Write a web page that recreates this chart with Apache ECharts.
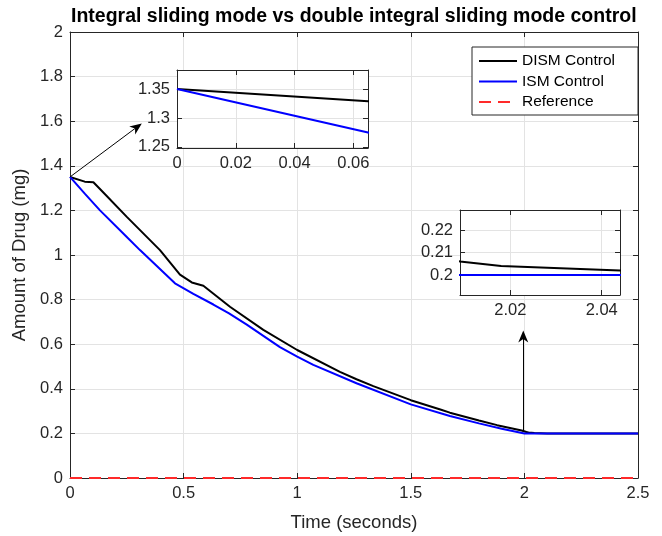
<!DOCTYPE html>
<html>
<head>
<meta charset="utf-8">
<script src="https://cdn.jsdelivr.net/npm/echarts@6/dist/echarts.min.js"></script>
<style>
  html, body { margin: 0; padding: 0; background: #fff; }
  #chart { width: 662px; height: 536px; }
</style>
</head>
<body>
<div id="chart"></div>
<script>
// values
const dismTime = [0, 0.065, 0.103, 0.15, 0.249, 0.396, 0.484, 0.536, 0.587, 0.704, 0.851, 1.0, 1.188, 1.261, 1.335, 1.5, 1.63, 1.672, 1.8, 1.88, 1.988, 2.009, 2.018, 2.044, 2.1, 2.5];
const dismValues = [1.35, 1.329, 1.326, 1.277, 1.172, 1.022, 0.912, 0.877, 0.862, 0.768, 0.664, 0.574, 0.476, 0.443, 0.412, 0.349, 0.307, 0.293, 0.258, 0.237, 0.213, 0.206, 0.204, 0.202, 0.2, 0.2];
const ismTime = [0, 0.065, 0.132, 0.25, 0.308, 0.462, 0.543, 0.631, 0.7, 0.778, 0.924, 1.0, 1.071, 1.261, 1.5, 1.672, 1.8, 1.9, 2.0, 2.5];
const ismValues = [1.35, 1.275, 1.2, 1.081, 1.022, 0.873, 0.826, 0.778, 0.738, 0.688, 0.587, 0.544, 0.507, 0.425, 0.33, 0.278, 0.245, 0.221, 0.2, 0.2];
const refTime = [0, 2.5];
const refValues = [0, 0];

// arrows pointing at the zoomed regions
const arrowStart1 = [0, 1.35], arrowEnd1 = [0.295, 1.574];
const arrowStart2 = [1.995, 0.212], arrowEnd2 = [1.995, 0.635];

const seriesNames = ["DISM Control", "ISM Control", "Reference"];

const pairs = (xs, ys) => xs.map((x, i) => [x, ys[i]]);

const FONT = "Liberation Sans";
const AXIS_COLOR = "#262626";
const GRID_COLOR = "#e3e3e3";
const dartArrow = "path://M5,0 L10,12 L5,8.5 L0,12 Z";

const makeAxis = (grid, pos, extra, labels, showMin, showMax) => Object.assign({
    type: "value",
    gridIndex: grid,
    position: pos,
    z: grid ? 4 : 0,
    axisLine: { show: true, onZero: false, lineStyle: { color: AXIS_COLOR, width: 1 } },
    axisTick: { show: true, inside: true, length: 5, lineStyle: { color: AXIS_COLOR } },
    axisLabel: {
        show: labels,
        color: AXIS_COLOR,
        fontFamily: FONT,
        fontSize: 16.5,
        margin: 7,
        showMinLabel: showMin,
        showMaxLabel: showMax
    },
    splitLine: { show: labels, lineStyle: { color: GRID_COLOR, width: 1 } }
}, extra);

const xMain = { min: 0, max: 2.5, interval: 0.5 };
const yMain = { min: 0, max: 2, interval: 0.2 };
const xInset1 = { min: 0, max: 0.065, splitNumber: 3 };
const yInset1 = { min: 1.248, max: 1.383, splitNumber: 3 };
const xInset2 = { min: 2.009, max: 2.044, splitNumber: 2 };
const yInset2 = { min: 0.1911, max: 0.2289, splitNumber: 4 };

const nameStyle = { fontFamily: FONT, fontSize: 18.5, color: AXIS_COLOR };

const lineSeries = (name, data, color, xi, yi, extra) => Object.assign({
    name: name,
    type: "line",
    data: data,
    xAxisIndex: xi,
    yAxisIndex: yi,
    symbol: "none",
    showSymbol: false,
    clip: true,
    z: xi ? 5 : 2,
    lineStyle: { color: color, width: 2 },
    itemStyle: { color: color },
    emphasis: { disabled: true }
}, extra);

const arrowLine = (a, b) => [
    { coord: a, symbol: "none" },
    { coord: b, symbol: dartArrow, symbolSize: [10, 12] }
];

const myChart = echarts.init(document.getElementById("chart"), null, { renderer: "canvas" });
const myChartOptions = {
    animation: false,
    backgroundColor: "#fff",
    title: {
        text: "Integral sliding mode vs double integral sliding mode control",
        left: 71,
        top: 2,
        padding: [5, 0, 5, 0],
        textStyle: { fontFamily: FONT, fontSize: 19.5, fontWeight: "bold", color: "#000" }
    },
    legend: {
        data: seriesNames,
        orient: "vertical",
        left: 472,
        top: 47,
        padding: [6, 23, 5, 6],
        itemWidth: 38,
        itemHeight: 14,
        itemGap: 4.5,
        backgroundColor: "#fff",
        borderColor: AXIS_COLOR,
        borderWidth: 1,
        borderRadius: 0,
        itemStyle: { opacity: 0 },
        textStyle: { fontFamily: FONT, fontSize: 15.5, color: "#000" }
    },
    grid: [
        { left: 70, right: 24, top: 32, bottom: 58, outerBoundsMode: "none" },
        { left: 177, top: 70, width: 191, height: 78, z: 3, show: true, backgroundColor: "#fff", borderWidth: 0, outerBoundsMode: "none" },
        { left: 460, top: 210, width: 160, height: 85, z: 3, show: true, backgroundColor: "#fff", borderWidth: 0, outerBoundsMode: "none" }
    ],
    xAxis: [
        makeAxis(0, "bottom", Object.assign({
            name: "Time (seconds)",
            nameLocation: "middle",
            nameGap: 35,
            nameTextStyle: nameStyle
        }, xMain), true, true, true),
        makeAxis(0, "top", xMain, false),
        makeAxis(1, "bottom", xInset1, true, true, false),
        makeAxis(1, "top", xInset1, false),
        makeAxis(2, "bottom", xInset2, true, false, false),
        makeAxis(2, "top", xInset2, false)
    ],
    yAxis: [
        makeAxis(0, "left", Object.assign({
            name: "Amount of Drug (mg)",
            nameLocation: "middle",
            nameGap: 39,
            nameTextStyle: nameStyle
        }, yMain), true, true, true),
        makeAxis(0, "right", yMain, false),
        makeAxis(1, "left", yInset1, true, false, false),
        makeAxis(1, "right", yInset1, false),
        makeAxis(2, "left", yInset2, true, false, false),
        makeAxis(2, "right", yInset2, false)
    ],
    series: [
        lineSeries(seriesNames[0], pairs(dismTime, dismValues), "#000000", 0, 0, {
            markLine: {
                silent: true,
                animation: false,
                label: { show: false },
                lineStyle: { color: "#000", width: 1, type: "solid" },
                emphasis: { disabled: true },
                data: [arrowLine(arrowStart1, arrowEnd1), arrowLine(arrowStart2, arrowEnd2)]
            }
        }),
        lineSeries(seriesNames[1], pairs(ismTime, ismValues), "#0000ff", 0, 0),
        lineSeries(seriesNames[2], pairs(refTime, refValues), "#ff2a2a", 0, 0, {
            lineStyle: { color: "#ff2a2a", width: 2, type: [12, 7] }
        }),
        lineSeries(seriesNames[0], pairs(dismTime, dismValues), "#000000", 2, 2),
        lineSeries(seriesNames[1], pairs(ismTime, ismValues), "#0000ff", 2, 2),
        lineSeries(seriesNames[0], pairs(dismTime, dismValues), "#000000", 4, 4),
        lineSeries(seriesNames[1], pairs(ismTime, ismValues), "#0000ff", 4, 4)
    ]
};
myChart.setOption(myChartOptions);
window.addEventListener("resize", () => myChart.resize());
</script>
</body>
</html>
